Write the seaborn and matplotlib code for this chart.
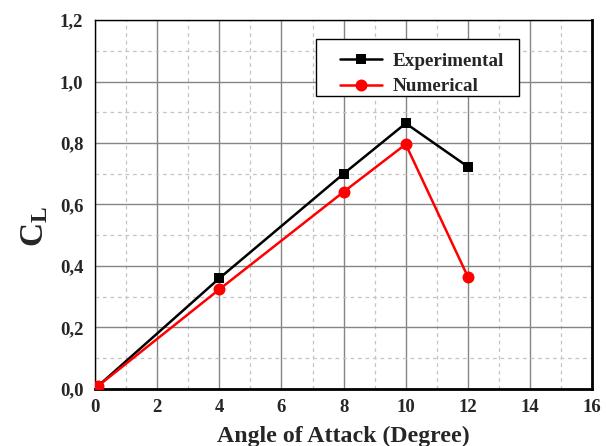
import matplotlib
matplotlib.use("Agg")
import matplotlib.pyplot as plt
import seaborn as sns
import pandas as pd
from matplotlib.ticker import MultipleLocator, FuncFormatter
from matplotlib.legend_handler import HandlerLine2D

# Lift coefficient vs angle of attack
angle = [0.1, 4, 8, 10, 12]
cl_experimental = [0.01, 0.36, 0.70, 0.864, 0.723]
cl_numerical = [0.01, 0.324, 0.641, 0.796, 0.365]
series_names = ["Experimental", "Numerical"]

sns.set_style("white")
plt.rcParams["font.family"] = ["Liberation Serif", "DejaVu Serif"]
plt.rcParams["font.weight"] = "bold"
plt.rcParams["mathtext.fontset"] = "custom"
plt.rcParams["mathtext.rm"] = "Liberation Serif:bold"
plt.rcParams["mathtext.bf"] = "Liberation Serif:bold"
plt.rcParams["mathtext.it"] = "Liberation Serif:bold"

fig = plt.figure(figsize=(6.06, 4.46), dpi=100)
ax = fig.add_axes([0.157, 0.128, 0.820, 0.827])

df_exp = pd.DataFrame({"angle": angle, "cl": cl_experimental})
df_num = pd.DataFrame({"angle": angle, "cl": cl_numerical})

sns.lineplot(data=df_exp, x="angle", y="cl", ax=ax, color="black", marker="s",
             markersize=7.8, markeredgewidth=0, linewidth=1.8,
             label=series_names[0], zorder=3)
sns.lineplot(data=df_num, x="angle", y="cl", ax=ax, color="#ff0000", marker="o",
             markersize=8.6, markeredgewidth=0, linewidth=1.8,
             label=series_names[1], zorder=4)

ax.set_xlim(0, 16)
ax.set_ylim(0, 1.2)
ax.xaxis.set_major_locator(MultipleLocator(2))
ax.xaxis.set_minor_locator(MultipleLocator(1))
ax.yaxis.set_major_locator(MultipleLocator(0.2))
ax.yaxis.set_minor_locator(MultipleLocator(0.1))
ax.yaxis.set_major_formatter(FuncFormatter(lambda v, p: f"{v:.1f}".replace(".", ",")))
ax.xaxis.set_major_formatter(FuncFormatter(lambda v, p: f"{int(round(v))}"))

ax.grid(which="major", color="#858585", linestyle="-", linewidth=1.0)
ax.grid(which="minor", color="#c4c4c4", linestyle=(0, (3, 3)), linewidth=0.9)
ax.set_axisbelow(True)

ax.tick_params(axis="both", which="both", length=0, labelsize=13.5)
ax.tick_params(axis="y", pad=8.5)
ax.tick_params(axis="x", pad=7)
for lbl in ax.get_xticklabels() + ax.get_yticklabels():
    lbl.set_fontweight("bold")

for side in ["left", "top"]:
    ax.spines[side].set_color("black")
    ax.spines[side].set_linewidth(1.0)
for side in ["right", "bottom"]:
    ax.spines[side].set_color("black")
    ax.spines[side].set_linewidth(2.0)

ax.set_xlabel("Angle of Attack (Degree)", fontsize=17.2, fontweight="bold", labelpad=7)
ax.set_ylabel(r"$\mathbf{C_L}$", fontsize=24)
ax.yaxis.set_label_coords(-0.09, 0.44)

# Legend: a tiny blank title gives the extra room above the first entry
handles, labels = ax.get_legend_handles_labels()
leg = ax.legend(handles, labels, loc="upper left",
                bbox_to_anchor=(0.4447, 0.948, 0.4085, 0.0), mode="expand",
                frameon=True, fancybox=False, edgecolor="black", framealpha=1,
                prop={"family": "Liberation Serif", "weight": "bold", "size": 13.75},
                title=" ", title_fontsize=4,
                handlelength=3.44, borderpad=0.02, labelspacing=0.42,
                handletextpad=0.56, borderaxespad=0,
                handler_map={h: HandlerLine2D(xpad=1.22) for h in handles})
leg.get_frame().set_linewidth(1.0)

fig.savefig("out.png", dpi=100)
